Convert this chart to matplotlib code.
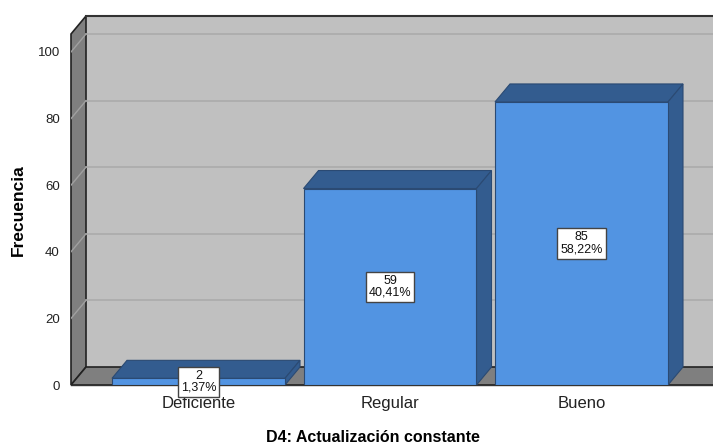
import numpy as np
import matplotlib.pyplot as plt
from matplotlib.patches import Polygon

categories = ["Deficiente", "Regular", "Bueno"]
counts = [2, 59, 85]
percents = ["1,37%", "40,41%", "58,22%"]
yticks = [0, 20, 40, 60, 80, 100]

FRONT = "#5294E2"
DARK = "#335C8F"
EDGE = "#2B4A73"
WALL = "#C0C0C0"
SIDE = "#7F7F7F"

plt.rcParams['font.family'] = ['Liberation Sans', 'DejaVu Sans']

W, H = 713, 446
fig = plt.figure(figsize=(W / 100, H / 100), dpi=100)

# front plane of the plot box, in pixels
left_px, right_px, bot_px, top_px = 71, 713, 385, 16
ax = fig.add_axes([left_px / W, 1 - bot_px / H, (right_px - left_px) / W, (bot_px - top_px) / H])

px_per_cat = 191.5
px_per_unit = 3.33
x0 = (left_px - 198.5) / px_per_cat
x1 = (right_px - 198.5) / px_per_cat
ytop = (bot_px - top_px) / px_per_unit
ax.set_xlim(x0, x1)
ax.set_ylim(0, ytop)

DX = 15 / px_per_cat
DY = 18 / px_per_unit
bw = 173 / px_per_cat

# walls
ax.add_patch(Polygon([(x0 + DX, DY), (x1 + 1, DY), (x1 + 1, ytop), (x0 + DX, ytop)],
                     closed=True, fc=WALL, ec="none", zorder=1))
ax.add_patch(Polygon([(x0, 0), (x0 + DX, DY), (x0 + DX, ytop), (x0, ytop - DY)],
                     closed=True, fc=SIDE, ec="#222222", lw=1.2, zorder=2, clip_on=False))
ax.add_patch(Polygon([(x0, 0), (x1 + 1, 0), (x1 + 1, DY), (x0 + DX, DY)],
                     closed=True, fc=SIDE, ec="#222222", lw=1.2, zorder=2, clip_on=True))
ax.plot([x0 + DX, x1], [ytop, ytop], color="#333333", lw=1.5, zorder=3, clip_on=False)
ax.plot([x0, x1], [0, 0], color="#333333", lw=1.0, zorder=3, clip_on=False)

# gridlines
for v in yticks[1:]:
    ax.plot([x0 + DX, x1], [v + DY, v + DY], color="#ABABAB", lw=1.2, zorder=2)
    ax.plot([x0, x0 + DX], [v, v + DY], color="#A0A0A0", lw=1.0, zorder=3)

# bars
for i, (c, p) in enumerate(zip(counts, percents)):
    l, r = i - bw / 2, i + bw / 2
    ax.add_patch(Polygon([(l, c), (r, c), (r + DX, c + DY), (l + DX, c + DY)],
                         closed=True, fc=DARK, ec=EDGE, lw=0.8, zorder=4))
    ax.add_patch(Polygon([(r, 0), (r + DX, DY), (r + DX, c + DY), (r, c)],
                         closed=True, fc=DARK, ec=EDGE, lw=0.8, zorder=4))
    ax.add_patch(Polygon([(l, 0), (r, 0), (r, c), (l, c)],
                         closed=True, fc=FRONT, ec=EDGE, lw=0.8, zorder=5))
    ax.text(i, c / 2, f"{c}\n{p}", ha="center", va="center", fontsize=9,
            linespacing=1.0, color="#111111", zorder=6,
            bbox=dict(boxstyle="square,pad=0.25", fc="white", ec="#444444", lw=1.0))

ax.set_yticks(yticks)
ax.set_yticklabels([str(v) for v in yticks], fontsize=9.5, color="#222222")
ax.set_xticks(range(len(categories)))
ax.set_xticklabels(categories, fontsize=12, color="#222222")
ax.tick_params(axis="y", length=0, pad=8)
ax.tick_params(axis="x", length=0, pad=8)
for s in ax.spines.values():
    s.set_visible(False)

fig.text(373 / W, 1 - 437 / H, "D4: Actualización constante", ha="center", va="center",
         fontsize=11.5, fontweight="bold")
fig.text(18 / W, 1 - 210 / H, "Frecuencia", ha="center", va="center", rotation=90,
         fontsize=12.5, fontweight="bold")

fig.savefig("out.png", dpi=100, facecolor="white")
